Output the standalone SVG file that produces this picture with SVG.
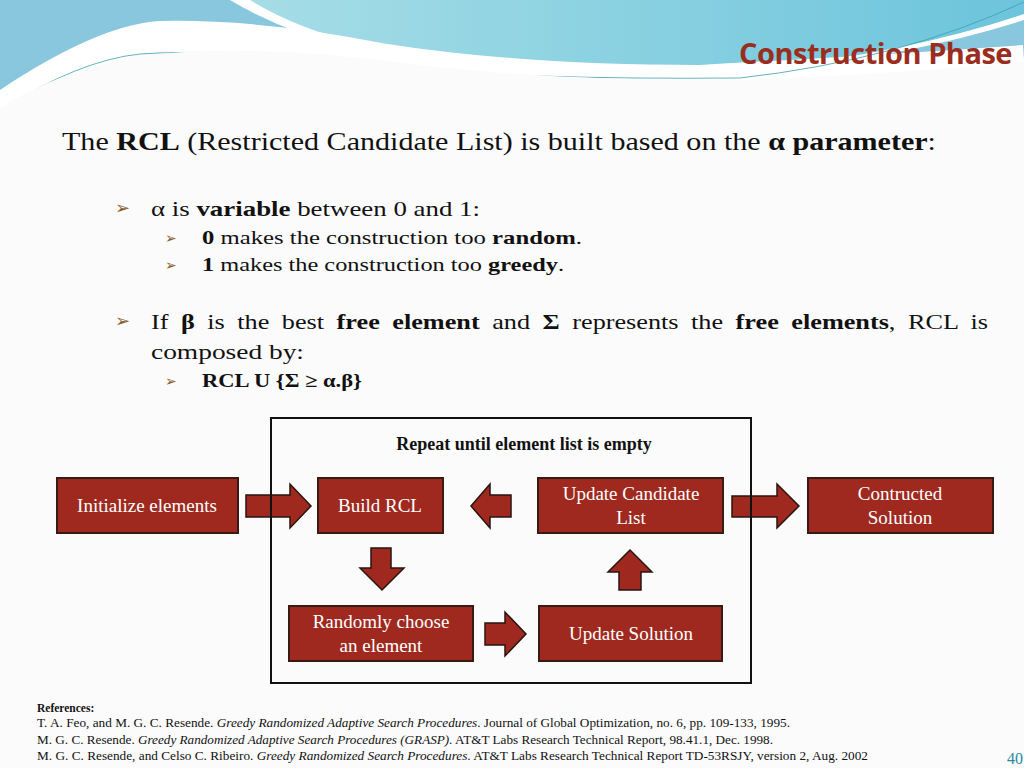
<svg xmlns="http://www.w3.org/2000/svg" width="1024" height="768" viewBox="0 0 1024 768">
<defs>
<linearGradient id="bg2" x1="0" y1="0" x2="1" y2="0"><stop offset="0" stop-color="#a6dde6"/><stop offset="1" stop-color="#6cc4dc"/></linearGradient>
</defs>
<style>
.box{fill:#a0291f;stroke:#3a1a14;stroke-width:2}
.arr{fill:#a0291f;stroke:#2a1410;stroke-width:1.5}
.bt{font-family:"Liberation Serif",serif;font-size:19px;fill:#fff;text-anchor:middle}
.t{font-family:"Liberation Serif",serif;fill:#111}
.b{font-weight:bold}
.ref{font-family:"Liberation Serif",serif;font-size:11.5px;fill:#111}
.bul{fill:#8b5a2b;font-family:"DejaVu Sans",sans-serif}
</style>
<rect width="1024" height="768" fill="#fbfbfb"/>
<path d="M0 105 Q120 30 200 34 Q300 40 400 58 Q560 82 700 78 Q880 72 1024 58 V0 H0 Z" fill="#88c7dd"/>
<path d="M230 0 Q330 60 480 64 Q560 66 720 76 Q900 60 1024 20 V0 Z" fill="#ffffff"/>
<path d="M250 0 Q340 55 490 60 Q600 64 740 70 Q900 56 1024 14 V0 Z" fill="url(#bg2)"/>
<path d="M0 108 Q100 40 160 36 Q260 34 380 58 Q520 80 700 80 Q880 70 1024 60" fill="none" stroke="#ffffff" stroke-width="30"/>
<path d="M0 110 Q80 60 140 54 Q220 48 380 66 Q520 80 740 78" fill="none" stroke="#3aa0b0" stroke-width="0.8"/>
<path d="M740 78 Q900 60 1024 2" fill="none" stroke="#3aa0b0" stroke-width="0.8"/>
<rect x="0" y="110" width="1024" height="658" fill="#fbfbfb"/>
<path d="M0 108 Q60 70 140 56 Q240 44 380 60 Q540 82 740 80 Q900 74 1024 62 V120 H0 Z" fill="#fbfbfb"/>
<text x="1012" y="64" text-anchor="end" font-family="Open Sans, Liberation Sans, sans-serif" font-weight="bold" font-size="29" fill="#9b2d1f" letter-spacing="-0.5">Construction Phase</text>

<text class="t" x="62" y="150" font-size="26" textLength="874" lengthAdjust="spacingAndGlyphs">The <tspan class="b">RCL</tspan> (Restricted Candidate List) is built based on the <tspan class="b">α parameter</tspan>:</text>
<text class="bul" x="115" y="214" font-size="18">➢</text>
<text class="t" x="151" y="216" font-size="22" textLength="329" lengthAdjust="spacingAndGlyphs">α is <tspan class="b">variable</tspan> between 0 and 1:</text>
<text class="bul" x="165" y="243" font-size="14">➢</text>
<text class="t" x="202" y="244" font-size="19" textLength="380" lengthAdjust="spacingAndGlyphs"><tspan class="b">0</tspan> makes the construction too <tspan class="b">random</tspan>.</text>
<text class="bul" x="165" y="270" font-size="14">➢</text>
<text class="t" x="202" y="271" font-size="19" textLength="362" lengthAdjust="spacingAndGlyphs"><tspan class="b">1</tspan> makes the construction too <tspan class="b">greedy</tspan>.</text>
<text class="bul" x="115" y="327" font-size="18">➢</text>
<text class="t" x="151" y="329" font-size="22" word-spacing="5" textLength="837" lengthAdjust="spacingAndGlyphs">If <tspan class="b">β</tspan> is the best <tspan class="b">free element</tspan> and <tspan class="b">Σ</tspan> represents the <tspan class="b">free elements</tspan>, RCL is</text>
<text class="t" x="151" y="359" font-size="22" textLength="153" lengthAdjust="spacingAndGlyphs">composed by:</text>
<text class="bul" x="165" y="386" font-size="14">➢</text>
<text class="t b" x="202" y="387" font-size="19" textLength="160" lengthAdjust="spacingAndGlyphs">RCL U {Σ ≥ α.β}</text>

<g id="connectors">
<polygon class="arr" points="246,495 290,495 290,484 311,506 290,528 290,517 246,517"/>
<polygon class="arr" points="511,495 490,495 490,484 471,506 490,528 490,517 511,517"/>
<polygon class="arr" points="732,496 777,496 777,484 799,506 777,528 777,517 732,517"/>
<polygon class="arr" points="371,548 391,548 391,568 404,568 382,590 360,568 371,568"/>
<polygon class="arr" points="619,590 641,590 641,572 652,572 630,550 608,572 619,572"/>
<polygon class="arr" points="485,623 505,623 505,612 526,634 505,656 505,645 485,645"/>
</g>

<g id="loop">
<rect x="271" y="418" width="480" height="265" fill="none" stroke="#111" stroke-width="2"/>
<text class="t b" x="524" y="450" font-size="18" text-anchor="middle">Repeat until element list is empty</text>
</g>

<g id="n-init"><rect class="box" x="57" y="478" width="181" height="55"/><text class="bt" x="147" y="512">Initialize elements</text></g>
<g id="n-build"><rect class="box" x="318" y="478" width="125" height="55"/><text class="bt" x="380" y="512">Build RCL</text></g>
<g id="n-update-cand"><rect class="box" x="538" y="478" width="185" height="55"/><text class="bt" x="631" y="500">Update Candidate</text><text class="bt" x="631" y="524">List</text></g>
<g id="n-constructed"><rect class="box" x="808" y="478" width="185" height="55"/><text class="bt" x="900" y="500">Contructed</text><text class="bt" x="900" y="524">Solution</text></g>
<g id="n-random"><rect class="box" x="289" y="606" width="184" height="55"/><text class="bt" x="381" y="628">Randomly choose</text><text class="bt" x="381" y="652">an element</text></g>
<g id="n-update-sol"><rect class="box" x="539" y="606" width="183" height="55"/><text class="bt" x="631" y="640">Update Solution</text></g>

<text class="ref b" x="37" y="712">References:</text>
<text class="ref" x="37" y="727" textLength="753" lengthAdjust="spacingAndGlyphs">T. A. Feo, and M. G. C. Resende. <tspan font-style="italic">Greedy Randomized Adaptive Search Procedures</tspan>. Journal of Global Optimization, no. 6, pp. 109-133, 1995.</text>
<text class="ref" x="37" y="744" textLength="736" lengthAdjust="spacingAndGlyphs">M. G. C. Resende. <tspan font-style="italic">Greedy Randomized Adaptive Search Procedures (GRASP).</tspan> AT&amp;T Labs Research Technical Report, 98.41.1, Dec. 1998.</text>
<text class="ref" x="37" y="760" textLength="831" lengthAdjust="spacingAndGlyphs">M. G. C. Resende, and Celso C. Ribeiro. <tspan font-style="italic">Greedy Randomized Search Procedures</tspan>. AT&amp;T Labs Research Technical Report TD-53RSJY, version 2, Aug. 2002</text>
<text x="1023" y="764" text-anchor="end" font-family="Liberation Serif, serif" font-size="16" fill="#2a8a9a">40</text>
</svg>
